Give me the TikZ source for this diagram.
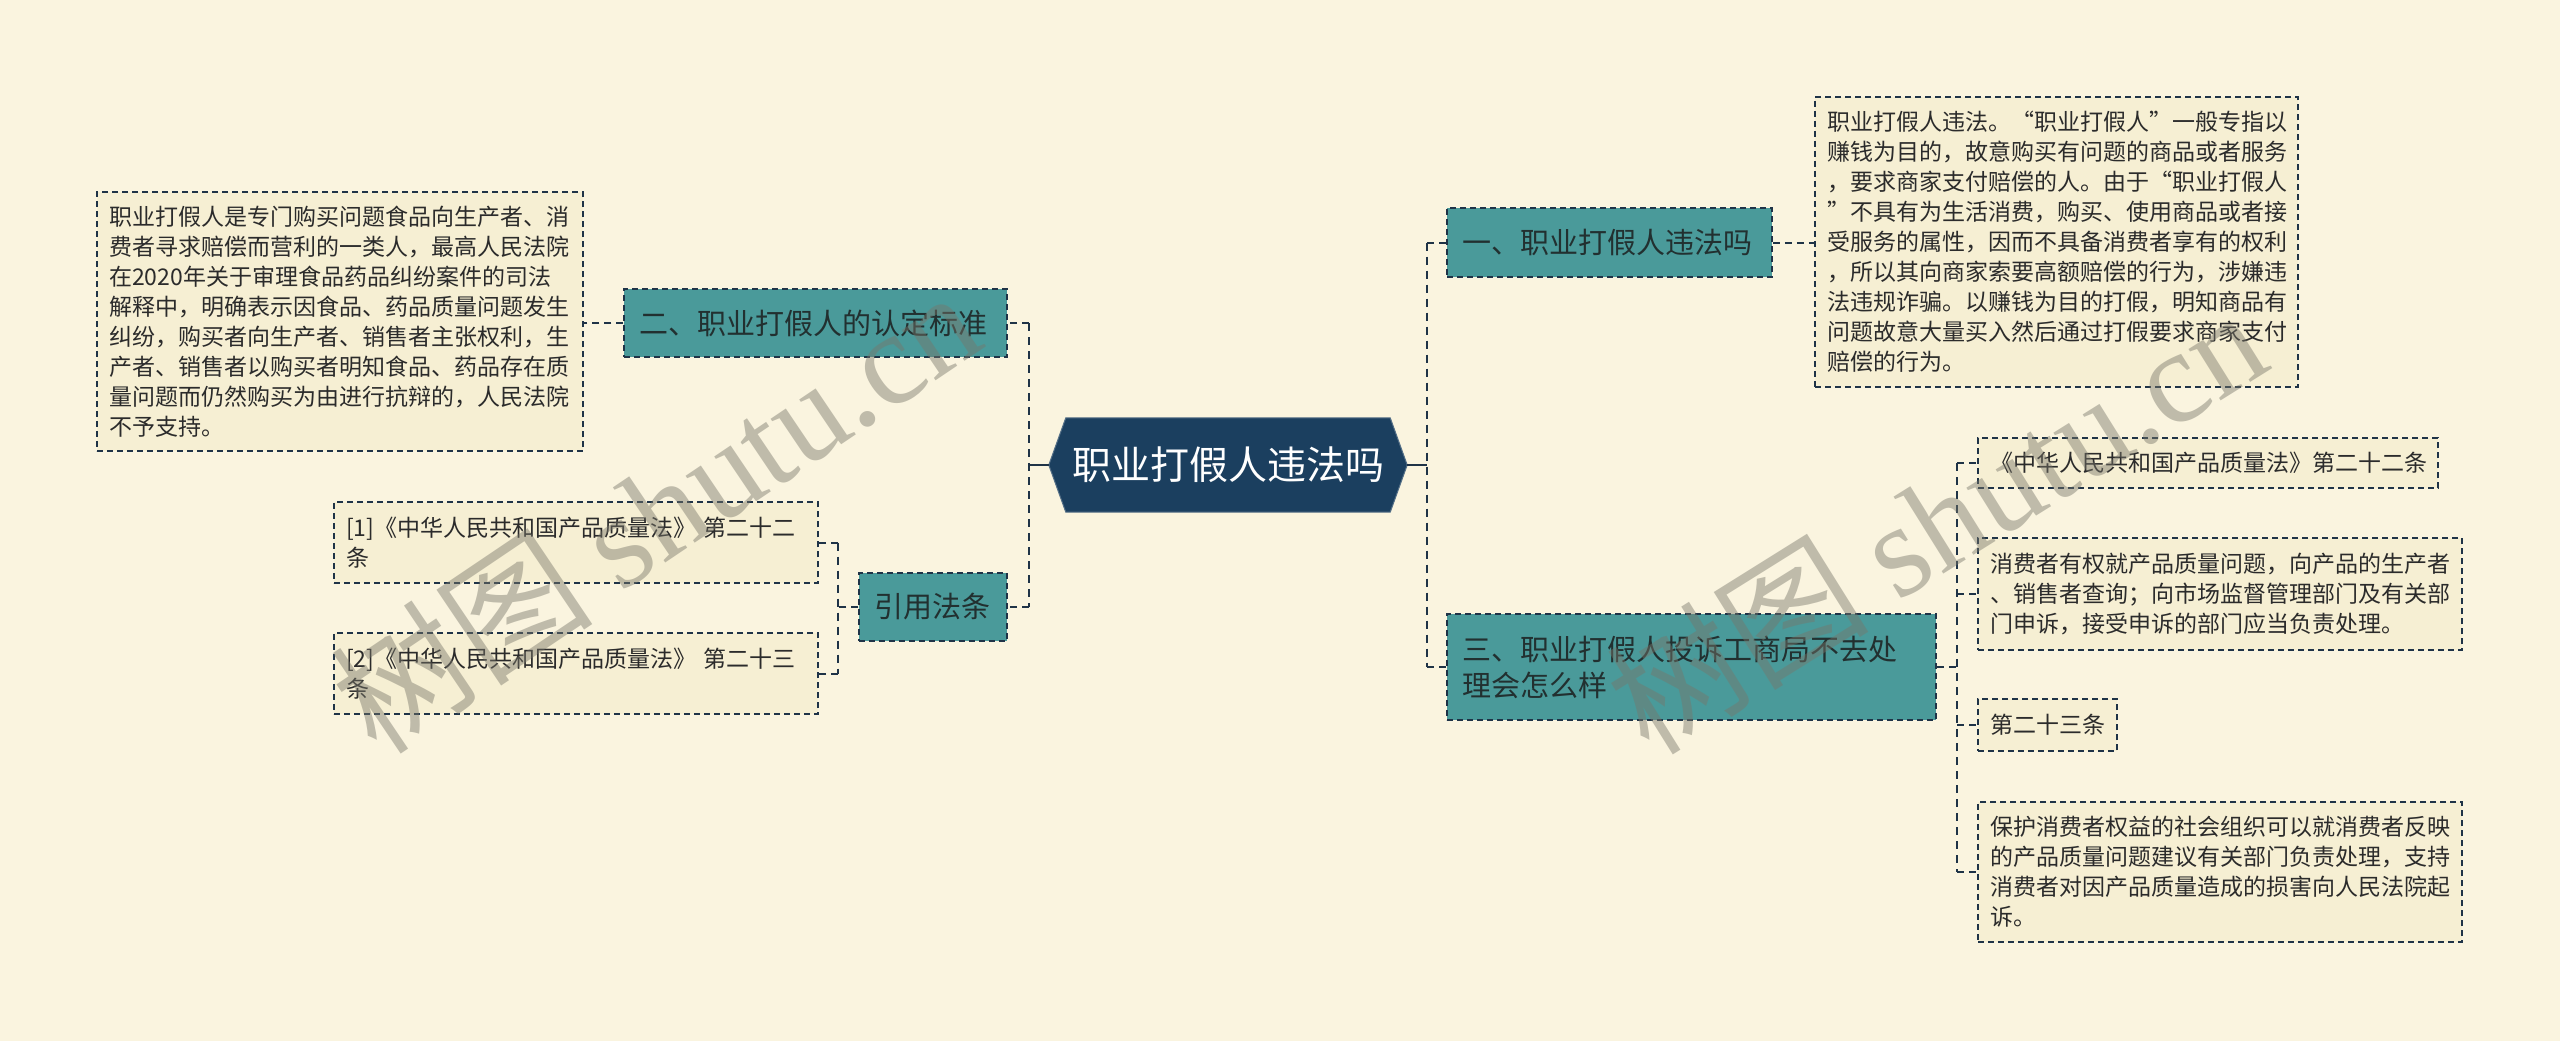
\documentclass[tikz,border=0pt]{standalone}
\usepackage{fontspec}
\setmainfont{Noto Sans CJK SC}
\newfontfamily\wmlatin{Liberation Serif}
\usetikzlibrary{positioning}

\definecolor{bgcream}{HTML}{FAF4DF}
\definecolor{leaffill}{HTML}{F6EFD3}
\definecolor{branchteal}{HTML}{4A9A9A}
\definecolor{rootnavy}{HTML}{1B3F5F}
\definecolor{linenavy}{HTML}{1F3347}
\definecolor{leaftext}{HTML}{2B2B2B}
\definecolor{branchtext}{HTML}{223030}
\definecolor{wmgray}{HTML}{78766A}

\begin{document}
\begin{tikzpicture}[x=1pt, y=-1pt]
\tikzset{
  leaf/.style={draw=linenavy, fill=leaffill, line width=1.5pt,
    dash pattern=on 6pt off 4pt, inner xsep=12pt, inner ysep=0pt,
    align=left, text=leaftext, font=\fontsize{23}{30}\selectfont},
  branch/.style={draw=linenavy, fill=branchteal, line width=1.5pt,
    dash pattern=on 6pt off 4pt, inner xsep=15pt, inner ysep=0pt,
    align=left, text=branchtext, font=\fontsize{29}{36}\selectfont},
  rootbox/.style={minimum width=358pt, minimum height=94pt, inner sep=0pt,
    text=white, font=\fontsize{39}{44}\selectfont},
  rootline/.style={linenavy, line width=2.5pt},
  bus/.style={linenavy, line width=2.8pt, dash pattern=on 8pt off 6pt},
  stub/.style={linenavy, line width=2pt, dash pattern=on 7pt off 5pt},
  wmark/.style={text=wmgray, opacity=0.45, inner sep=0pt,
    font=\fontsize{132}{132}\selectfont},
}
\useasboundingbox (0,0) rectangle (2560,1041);
\fill[bgcream] (0,0) rectangle (2560,1041);

% ---- central topic ----
\node[rootbox] (root) at (1228,465) {};
\fill[rootnavy, draw=rootnavy!75!white, line width=1pt]
  ([xshift=17pt]root.north west) -- ([xshift=-17pt]root.north east) -- (root.east)
  -- ([xshift=-17pt]root.south east) -- ([xshift=17pt]root.south west) -- (root.west) -- cycle;
\node[rootbox] (roottitle) at (root.center) {职业打假人违法吗};

% =====================================================================
% Left side
% =====================================================================
\node[branch, text width=353pt, minimum height=68pt] (b2) at (815.5,323)
  {二、职业打假人的认定标准};
\node[leaf, text width=462pt, minimum height=259pt] (d2) at (340,321.5)
  {职业打假人是专门购买问题食品向生产者、消\\
   费者寻求赔偿而营利的一类人，最高人民法院\\
   在2020年关于审理食品药品纠纷案件的司法\\
   解释中，明确表示因食品、药品质量问题发生\\
   纠纷，购买者向生产者、销售者主张权利，生\\
   产者、销售者以购买者明知食品、药品存在质\\
   量问题而仍然购买为由进行抗辩的，人民法院\\
   不予支持。};
\node[branch, text width=118pt, minimum height=68pt] (b4) at (933,607) {引用法条};
\node[leaf, text width=460pt, minimum height=81pt] (r1) at (576,542.5)
  {[1]《中华人民共和国产品质量法》 第二十二\\条};
\node[leaf, text width=460pt, minimum height=81pt] (r2) at (576,673.5)
  {[2]《中华人民共和国产品质量法》 第二十三\\条};

% ---- connectors, left ----
\coordinate (lbus) at (1029,465);
\coordinate (ybus) at (838,607);
\draw[rootline] (root.west) -- (lbus);
\draw[bus] (lbus |- b2) -- (lbus |- b4);
\draw[stub] (lbus |- b2) -- (b2.east);
\draw[stub] (lbus |- b4) -- (b4.east);
\draw[stub] (b2.west) -- (b2.west -| d2.east);
\draw[stub] (b4.west) -- (ybus);
\draw[bus] (ybus |- r1) -- (ybus |- r2);
\draw[stub] (ybus |- r1) -- (r1.east);
\draw[stub] (ybus |- r2) -- (r2.east);

% =====================================================================
% Right side
% =====================================================================
\node[branch, text width=295pt, minimum height=69pt] (b1) at (1609.5,242.5)
  {一、职业打假人违法吗};
\node[leaf, text width=459pt, minimum height=290pt] (d1) at (2056.5,242)
  {职业打假人违法。“职业打假人”一般专指以\\
   赚钱为目的，故意购买有问题的商品或者服务\\
   ，要求商家支付赔偿的人。由于“职业打假人\\
   ”不具有为生活消费，购买、使用商品或者接\\
   受服务的属性，因而不具备消费者享有的权利\\
   ，所以其向商家索要高额赔偿的行为，涉嫌违\\
   法违规诈骗。以赚钱为目的打假，明知商品有\\
   问题故意大量买入然后通过打假要求商家支付\\
   赔偿的行为。};
\node[branch, text width=459pt, minimum height=106pt] (b3) at (1691.5,667)
  {三、职业打假人投诉工商局不去处\\理会怎么样};
\node[leaf, text width=436pt, minimum height=50pt] (c1) at (2208,463)
  {《中华人民共和国产品质量法》第二十二条};
\node[leaf, text width=460pt, minimum height=112pt] (c2) at (2220,594)
  {消费者有权就产品质量问题，向产品的生产者\\
   、销售者查询；向市场监督管理部门及有关部\\
   门申诉，接受申诉的部门应当负责处理。};
\node[leaf, text width=115pt, minimum height=52pt] (c3) at (2047.5,725) {第二十三条};
\node[leaf, text width=460pt, minimum height=140pt] (c4) at (2220,872)
  {保护消费者权益的社会组织可以就消费者反映\\
   的产品质量问题建议有关部门负责处理，支持\\
   消费者对因产品质量造成的损害向人民法院起\\
   诉。};

% ---- connectors, right ----
\coordinate (rbus) at (1427,465);
\coordinate (cbus) at (1957,667);
\draw[rootline] (root.east) -- (rbus);
\draw[bus] (rbus |- b1) -- (rbus |- b3);
\draw[stub] (rbus |- b1) -- (b1.west);
\draw[stub] (rbus |- b3) -- (b3.west);
\draw[stub] (b1.east) -- (b1.east -| d1.west);
\draw[stub] (b3.east) -- (cbus);
\draw[bus] (cbus |- c1) -- (cbus |- c4);
\foreach \c in {c1,c2,c3,c4}{
  \draw[stub] (cbus |- \c) -- (\c.west);
}

% ---- watermarks ----
\node[wmark, rotate=34] (wm1) at (655,510) {树图 {\wmlatin shutu.cn}};
\node[wmark, rotate=32] (wm2) at (1935,520) {树图 {\wmlatin shutu.cn}};

\end{tikzpicture}
\end{document}
